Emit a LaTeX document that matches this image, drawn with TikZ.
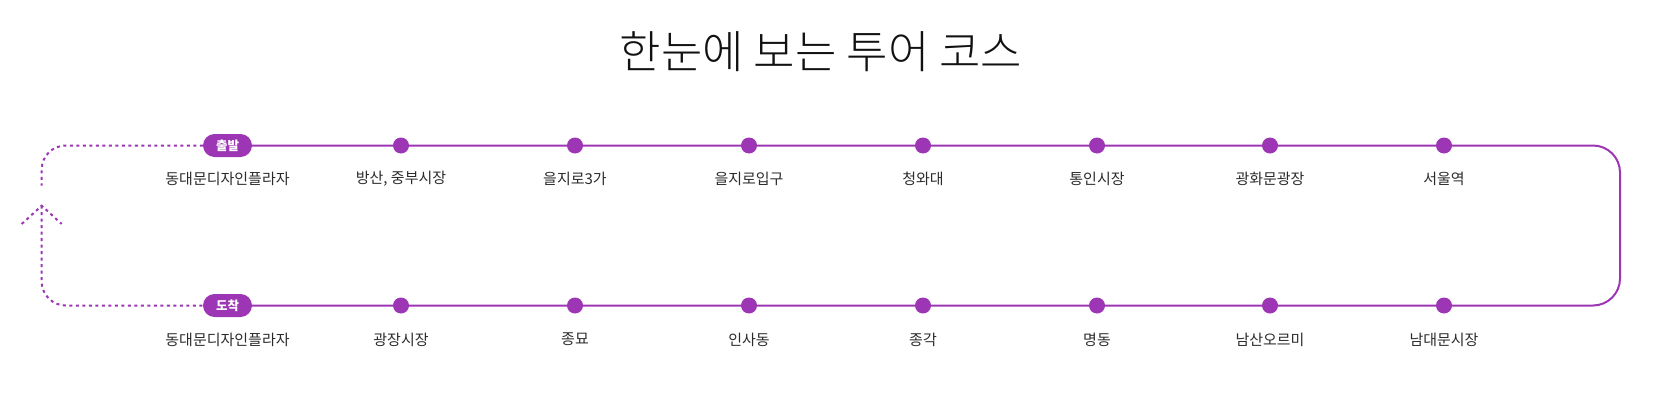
\documentclass[tikz,border=0pt]{standalone}
\usepackage{fontspec}
\setmainfont{Noto Sans CJK KR}
\IfFontExistsTF{Noto Sans CJK KR Light}
  {\newfontfamily\titlefont{Noto Sans CJK KR Light}}
  {\IfFontExistsTF{Noto Sans CJK KR DemiLight}
    {\newfontfamily\titlefont{Noto Sans CJK KR DemiLight}}
    {\newfontfamily\titlefont{Noto Sans CJK KR}}}
\usetikzlibrary{backgrounds}
\definecolor{grape}{HTML}{9C36B5}
\definecolor{labelgray}{HTML}{2B2B2B}
\definecolor{titleblack}{HTML}{111111}
\tikzset{
  stopdot/.style={circle, fill=grape, inner sep=0pt, minimum size=16pt},
  badge/.style={rectangle, rounded corners=11.5pt, fill=grape, text=white,
    minimum width=49pt, minimum height=23pt, inner sep=0pt,
    font=\fontsize{12.5}{14}\selectfont\bfseries},
  stoplabel/.style={text=labelgray, inner sep=0pt, font=\fontsize{15}{17}\selectfont},
  route/.style={draw=grape, line width=2pt},
  returnroute/.style={draw=grape, line width=2pt, dash pattern=on 3pt off 3.5pt},
}
\begin{document}
\begin{tikzpicture}[x=1pt,y=-1pt]
\useasboundingbox (0,0) rectangle (1663,418);
\node[text=titleblack, font=\titlefont\fontsize{45}{50}\selectfont] (title) at (821,52) {한눈에 보는 투어 코스};
% top row
\node[badge] (t1) at (227.5,145.5) {출발};
\node[stopdot] (t2) at (401,145.5) {};
\node[stopdot] (t3) at (575,145.5) {};
\node[stopdot] (t4) at (749,145.5) {};
\node[stopdot] (t5) at (923,145.5) {};
\node[stopdot] (t6) at (1097,145.5) {};
\node[stopdot] (t7) at (1270,145.5) {};
\node[stopdot] (t8) at (1444,145.5) {};
% bottom row
\node[badge] (b1) at (227.5,305.5) {도착};
\node[stopdot] (b2) at (401,305.5) {};
\node[stopdot] (b3) at (575,305.5) {};
\node[stopdot] (b4) at (749,305.5) {};
\node[stopdot] (b5) at (923,305.5) {};
\node[stopdot] (b6) at (1097,305.5) {};
\node[stopdot] (b7) at (1270,305.5) {};
\node[stopdot] (b8) at (1444,305.5) {};
% labels
\node[stoplabel] (lt1) at (227.5,179) {동대문디자인플라자};
\node[stoplabel] (lt2) at (401,179) {방산, 중부시장};
\node[stoplabel] (lt3) at (575,179) {을지로3가};
\node[stoplabel] (lt4) at (749,179) {을지로입구};
\node[stoplabel] (lt5) at (923,179) {청와대};
\node[stoplabel] (lt6) at (1097,179) {통인시장};
\node[stoplabel] (lt7) at (1270,179) {광화문광장};
\node[stoplabel] (lt8) at (1444,179) {서울역};
\node[stoplabel] (lb1) at (227.5,339.5) {동대문디자인플라자};
\node[stoplabel] (lb2) at (401,339.5) {광장시장};
\node[stoplabel] (lb3) at (575,339.5) {종묘};
\node[stoplabel] (lb4) at (749,339.5) {인사동};
\node[stoplabel] (lb5) at (923,339.5) {종각};
\node[stoplabel] (lb6) at (1097,339.5) {명동};
\node[stoplabel] (lb7) at (1270,339.5) {남산오르미};
\node[stoplabel] (lb8) at (1444,339.5) {남대문시장};
% corner coordinates
\coordinate (rt) at (1620,145.5);
\coordinate (rb) at (1620,305.5);
\coordinate (lt) at (41.7,145.5);
\coordinate (lgap) at (41.7,185.7);
\coordinate (tip) at (41.7,205.7);
\coordinate (wl) at (21.7,224);
\coordinate (wr) at (61.7,224);
\coordinate (lb) at (41.7,305.5);
\begin{scope}[on background layer]
\draw[route, rounded corners=27pt] (t1.center) -- (rt) -- (rb) -- (b1.center);
\draw[returnroute, rounded corners=24pt] (t1.west) -- (lt) -- (lgap);
\draw[returnroute, rounded corners=24pt] (tip) -- (lb) -- (b1.west);
\draw[returnroute] (wl) -- (tip) -- (wr);
\end{scope}
\end{tikzpicture}
\end{document}
